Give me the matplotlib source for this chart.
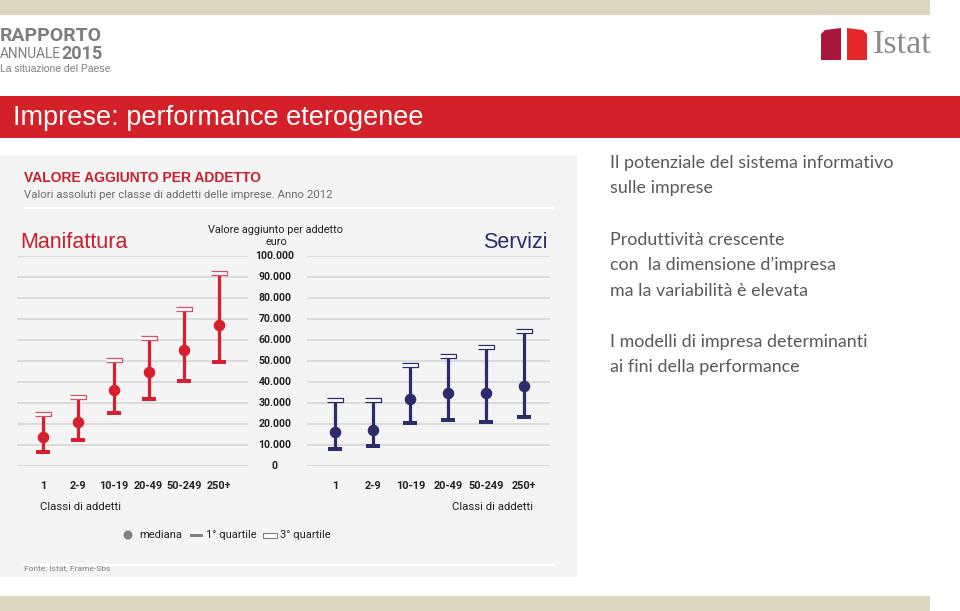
import matplotlib
matplotlib.use('Agg')
import matplotlib.pyplot as plt
from matplotlib.patches import Rectangle, Polygon, Circle
from matplotlib.transforms import blended_transform_factory

# ---------------- data ----------------
classes = ['1', '2-9', '10-19', '20-49', '50-249', '250+']
man_q1 = [6500, 12400, 25400, 32100, 40400, 49300]
man_med = [14000, 20800, 36400, 45000, 55200, 67300]
man_q3 = [25000, 32800, 50600, 60900, 75000, 92100]
ser_q1 = [8300, 9400, 20500, 21800, 21000, 23200]
ser_med = [16200, 17300, 32000, 34700, 34800, 38200]
ser_q3 = [31200, 31200, 47900, 52600, 56900, 64100]
y_ticks = [0, 10000, 20000, 30000, 40000, 50000, 60000, 70000, 80000, 90000, 100000]
y_tick_labels = ['0', '10.000', '20.000', '30.000', '40.000', '50.000',
                 '60.000', '70.000', '80.000', '90.000', '100.000']
side_text = [
    ('Il potenziale del sistema informativo', 163),
    ('sulle imprese', 188),
    ('Produttività crescente', 240),
    ('con  la dimensione d\u2019impresa', 265),
    ('ma la variabilità è elevata', 291),
    ('I modelli di impresa determinanti', 342),
    ('ai fini della performance', 367),
]

RED = '#d71f2f'
NAVY = '#2b2c6c'
GRID = '#d9d9d9'
PANEL = '#f4f4f4'
BEIGE = '#ded6c1'
NARROW = ['Roboto', 'DejaVu Sans']
ARIAL = ['Liberation Sans', 'DejaVu Sans']
CAL = ['Lato', 'DejaVu Sans']
INK = '#222222'

W, H = 960, 611
fig = plt.figure(figsize=(W / 100, H / 100), dpi=100)
fig.patch.set_facecolor('white')

bg = fig.add_axes([0, 0, 1, 1])
bg.set_xlim(0, W)
bg.set_ylim(H, 0)
bg.axis('off')

# bands and panel
bg.add_patch(Rectangle((0, 0), 930, 15, color=BEIGE, lw=0))
bg.add_patch(Rectangle((0, 596), 930, 15, color=BEIGE, lw=0))
bg.add_patch(Rectangle((0, 96), W, 42, color='#d42028', lw=0))
bg.add_patch(Rectangle((0, 155), 577, 422, color=PANEL, lw=0))
bg.plot([24, 553], [208, 208], color='white', lw=1.5)
bg.plot([24, 553], [565, 565], color='white', lw=1.5)

# header logos
bg.text(0, 36, 'RAPPORTO', fontsize=14, fontweight='bold', color='#7d7d7d',
        family=NARROW, va='center', ha='left')
bg.text(0, 54, 'ANNUALE', fontsize=9.8, color='#7d7d7d', family=NARROW,
        va='center', ha='left')
bg.text(61, 54, '2015', fontsize=13, fontweight='bold', color='#7d7d7d',
        family=NARROW, va='center', ha='left')
bg.text(0, 69, 'La situazione del Paese', fontsize=7.5, color='#7d7d7d',
        family=ARIAL, va='center', ha='left')

bg.add_patch(Polygon([(821, 34), (825, 30), (841, 28), (841, 60), (821, 60)],
                     closed=True, color='#a8183c', lw=0))
bg.add_patch(Polygon([(847, 28), (863, 30), (867, 34), (867, 60), (847, 60)],
                     closed=True, color='#e4282a', lw=0))
bg.text(873, 45, 'Istat', fontsize=24.5, color='#8c8c8c',
        family=['Liberation Serif', 'DejaVu Serif'], va='center', ha='left')

# title
bg.text(13, 118, 'Imprese: performance eterogenee', fontsize=19.5, color='white',
        family=ARIAL, va='center', ha='left')

# chart headers
bg.text(24, 178, 'VALORE AGGIUNTO PER ADDETTO', fontsize=10, fontweight='bold',
        color='#c8202c', family=ARIAL, va='center', ha='left')
bg.text(24, 195, 'Valori assoluti per classe di addetti delle imprese. Anno 2012',
        fontsize=8.2, color='#6d6d6d', family=NARROW, va='center', ha='left')
bg.text(20, 242, 'Manifattura', fontsize=15.5, color='#c8202c', family=ARIAL,
        va='center', ha='left')
bg.text(548, 242, 'Servizi', fontsize=15.5, color=NAVY, family=ARIAL,
        va='center', ha='right')
bg.text(276, 230, 'Valore aggiunto per addetto', fontsize=7.8, color=INK,
        family=NARROW, va='center', ha='center')
bg.text(276, 242, 'euro', fontsize=7.8, color=INK, family=NARROW,
        va='center', ha='center')
bg.text(40, 507, 'Classi di addetti', fontsize=8.2, color=INK, family=NARROW,
        va='center', ha='left')
bg.text(533, 507, 'Classi di addetti', fontsize=8.2, color=INK, family=NARROW,
        va='center', ha='right')

# legend
bg.add_patch(Circle((128, 535), 4.5, color='#808080', lw=0))
bg.text(139, 535, 'mediana', fontsize=8, color=INK, family=NARROW, va='center', ha='left')
bg.add_patch(Rectangle((190, 533.5), 13, 3.5, color='#808080', lw=0))
bg.text(206, 535, '1° quartile', fontsize=8, color=INK, family=NARROW, va='center', ha='left')
bg.add_patch(Rectangle((263, 532.5), 14, 5, facecolor='white', edgecolor='#808080', lw=0.8))
bg.text(280, 535, '3° quartile', fontsize=8, color=INK, family=NARROW, va='center', ha='left')

bg.text(24, 568, 'Fonte: Istat, Frame-Sbs', fontsize=6, color='#808080', family=NARROW,
        va='center', ha='left')

for txt, yy in side_text:
    bg.text(610, yy, txt, fontsize=12.9, color='#595959', family=CAL, va='center', ha='left')

# ---------------- charts ----------------
Y0, Y1 = 466, 256  # pixel rows of 0 and 100.000


def chart_axes(x0, x1, xmin, xmax):
    ax = fig.add_axes([x0 / W, (H - Y0) / H, (x1 - x0) / W, (Y0 - Y1) / H])
    ax.set_xlim(xmin, xmax)
    ax.set_ylim(0, 100000)
    ax.axis('off')
    ax.patch.set_alpha(0)
    for v in y_ticks:
        ax.axhline(v, color=GRID, lw=1.3, zorder=1)
    return ax


q1_marker = [(-1, -0.24), (1, -0.24), (1, 0.24), (-1, 0.24)]
q3_marker = [(-1, -0.27), (1, -0.27), (1, 0.27), (-1, 0.27)]


def draw_series(ax, q1, med, q3, color, q3edge):
    xs = list(range(len(classes)))
    ax.vlines(xs, q1, q3, color=color, lw=2.3, zorder=3)
    ax.plot(xs, q1, ls='none', marker=q1_marker, markersize=10.5, color=color,
            mec=color, mew=0, zorder=4, clip_on=False)
    ax.plot(xs, q3, ls='none', marker=q3_marker, markersize=11, mfc='white',
            mec=q3edge, mew=0.9, zorder=4, clip_on=False)
    ax.plot(xs, med, ls='none', marker='o', markersize=7.3, color=color,
            mec=color, zorder=5, clip_on=False)
    tr = blended_transform_factory(ax.transData, ax.transAxes)
    for i, c in enumerate(classes):
        ax.text(i, (Y0 - 486) / (Y0 - Y1), c, transform=tr, fontsize=7.8,
                fontweight='bold', color=INK, family=NARROW,
                ha='center', va='center')


ax_l = chart_axes(17, 248, -0.748, 5.825)
draw_series(ax_l, man_q1, man_med, man_q3, RED, '#d9506a')
ax_r = chart_axes(307, 550, -0.733, 5.696)
draw_series(ax_r, ser_q1, ser_med, ser_q3, NAVY, NAVY)

trm = blended_transform_factory(ax_l.transAxes, ax_l.transData)
for v, lab in zip(y_ticks, y_tick_labels):
    ax_l.text((275 - 17) / (248 - 17), v, lab, transform=trm, fontsize=7.6,
              fontweight='bold', color=INK, family=NARROW,
              ha='center', va='center')

fig.savefig('out.png', dpi=100)
